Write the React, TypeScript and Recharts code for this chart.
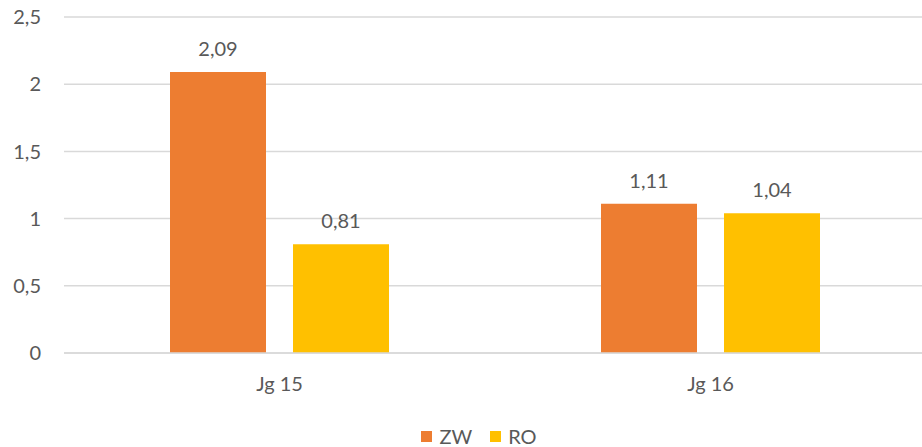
import { BarChart, Bar, XAxis, YAxis, CartesianGrid, LabelList } from 'recharts'

// values
const categories = ['Jg 15', 'Jg 16']
const zwValues = [2.09, 1.11]
const roValues = [0.81, 1.04]
const yTicks = [0, 0.5, 1, 1.5, 2, 2.5]

const data = categories.map((name, i) => ({ name, zw: zwValues[i], ro: roValues[i] }))

const textGray = '#595959'
const gridGray = '#d9d9d9'
const font = 'Lato, "Open Sans", sans-serif'
const fontSize = 20

const fmt = (v: number | string) => String(v).replace('.', ',')
const fmt2 = (v: number | string) => Number(v).toFixed(2).replace('.', ',')

const series = [
    { key: 'zw', name: 'ZW', color: '#ED7D31' },
    { key: 'ro', name: 'RO', color: '#FFC000' },
]

// legend drawn as an overlay so it does not eat into the plot height
function LegendBox() {
    return (
        <div
            style={{
                position: 'absolute', left: 36, top: 426, width: 886, height: 20,
                display: 'flex', justifyContent: 'center', alignItems: 'center', gap: 18,
                fontFamily: font, fontSize, color: textGray, lineHeight: '20px',
            }}
        >
            {series.map(s => (
                <span key={s.key} style={{ display: 'flex', alignItems: 'center', height: 20 }}>
                    <span style={{ width: 11, height: 11, background: s.color, marginRight: 7, display: 'inline-block' }} />
                    {s.name}
                </span>
            ))}
        </div>
    )
}

export default function App() {
    return (
        <div style={{ position: 'absolute', left: 0, top: 0, width: 922, height: 447, background: '#fff', overflow: 'hidden' }}>
            <BarChart
                width={922}
                height={447}
                data={data}
                margin={{ top: 17, right: -4, left: 0, bottom: 0 }}
                barGap={27}
            >
                <CartesianGrid vertical={false} stroke={gridGray} strokeWidth={1.5} />
                <XAxis
                    dataKey="name"
                    height={94}
                    tickLine={false}
                    tickSize={0}
                    tickMargin={24}
                    axisLine={{ stroke: gridGray, strokeWidth: 1.5 }}
                    tick={{ fill: textGray, fontSize, fontFamily: font }}
                />
                <YAxis
                    width={64}
                    domain={[0, 2.5]}
                    ticks={yTicks}
                    tickFormatter={fmt}
                    axisLine={false}
                    tickLine={false}
                    tickSize={0}
                    tickMargin={23}
                    tick={{ fill: textGray, fontSize, fontFamily: font }}
                />
                {series.map(s => (
                    <Bar key={s.key} dataKey={s.key} name={s.name} fill={s.color} barSize={96} isAnimationActive={false}>
                        <LabelList
                            dataKey={s.key}
                            position="top"
                            offset={16}
                            formatter={fmt2}
                            style={{ fill: textGray, fontSize, fontFamily: font }}
                        />
                    </Bar>
                ))}
            </BarChart>
            <LegendBox />
        </div>
    )
}
